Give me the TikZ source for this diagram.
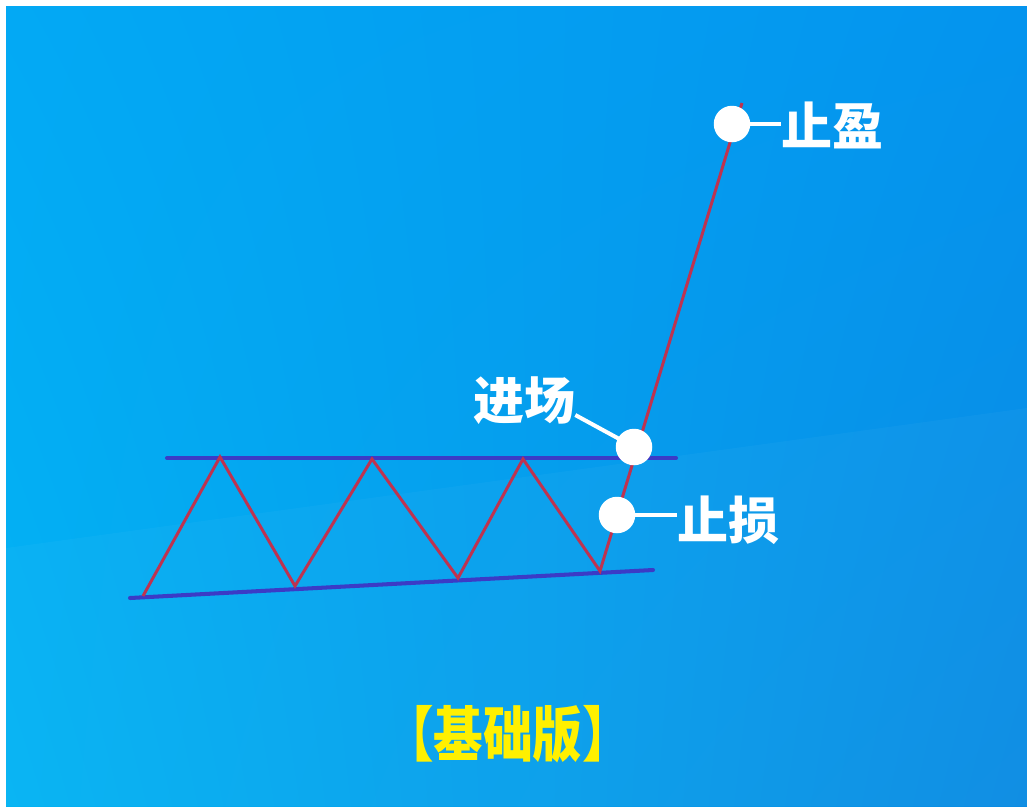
\documentclass[tikz,border=0pt]{standalone}
\usepackage{fontspec}
\usepackage{xcolor}
\usepackage{tikz}
\usetikzlibrary{calc,shadings}
\newfontfamily\cjk{Noto Sans CJK SC}
\definecolor{chanblue}{HTML}{3B3BC6}
\definecolor{pricered}{HTML}{BE3350}
\definecolor{titleyellow}{HTML}{FFF000}
\definecolor{bgul}{HTML}{03A9F4}
\definecolor{bgur}{HTML}{0494EE}
\definecolor{bgll}{HTML}{03B3F3}
\definecolor{bglr}{HTML}{0A8BE3}

\begin{document}
\begin{tikzpicture}[x=0.02cm,y=-0.02cm,
  band/.style={draw=chanblue,line width=2.3pt,line cap=round},
  price/.style={draw=pricered,line width=1.7pt},
  dot/.style={circle,fill=white,inner sep=0pt,minimum size=0.73cm},
  wire/.style={draw=white,line width=2.3pt},
  tag/.style={text=white,inner sep=0pt,font=\cjk\bfseries\fontsize{29}{29}\selectfont}]
  \useasboundingbox (0,0) rectangle (1027,806);
  \fill[white] (0,0) rectangle (1027,806);
  \shade[upper left=bgul,upper right=bgur,lower left=bgll,lower right=bglr] (6,6) rectangle (1027,806);
  \fill[white,opacity=0.03] (6,548) -- (1027,408) -- (1027,806) -- (6,806) -- cycle;

  \coordinate (u0) at (167,458);
  \coordinate (u1) at (676,458);
  \coordinate (l0) at (130,598);
  \coordinate (l1) at (653,570);
  \draw[band] (u0) -- (u1);
  \draw[band] (l0) -- (l1);

  \coordinate (p0) at (143,596);
  \coordinate (p1) at (220,457);
  \coordinate (p2) at (295,586);
  \coordinate (p3) at (372,459);
  \coordinate (p4) at (458,578);
  \coordinate (p5) at (523,459);
  \coordinate (p6) at (600,571);
  \coordinate (p7) at (742,103);
  \draw[price] (p0) -- (p1) -- (p2) -- (p3) -- (p4) -- (p5) -- (p6) -- (p7);

  \node[tag] (tplbl) at (832,125) {止盈};
  \node[tag] (sllbl) at (728,520) {止损};
  \node[tag] (enlbl) at (524,401) {进场};
  \node[text=titleyellow,inner sep=0pt,xscale=0.83,font=\cjk\bfseries\fontsize{34}{34}\selectfont] (title) at (508,734) {【基础版】};

  \coordinate (tp) at (732,124);
  \coordinate (sl) at (617,515);
  \coordinate (en) at (634,447);
  \draw[wire] (tp) -- (tp -| tplbl.west);
  \draw[wire] (sl) -- (sl -| sllbl.west);
  \draw[wire] ($(enlbl.east)+(0,14)$) -- (en);
  \node[dot] (tpdot) at (tp) {};
  \node[dot] (sldot) at (sl) {};
  \node[dot] (endot) at (en) {};
\end{tikzpicture}
\end{document}
